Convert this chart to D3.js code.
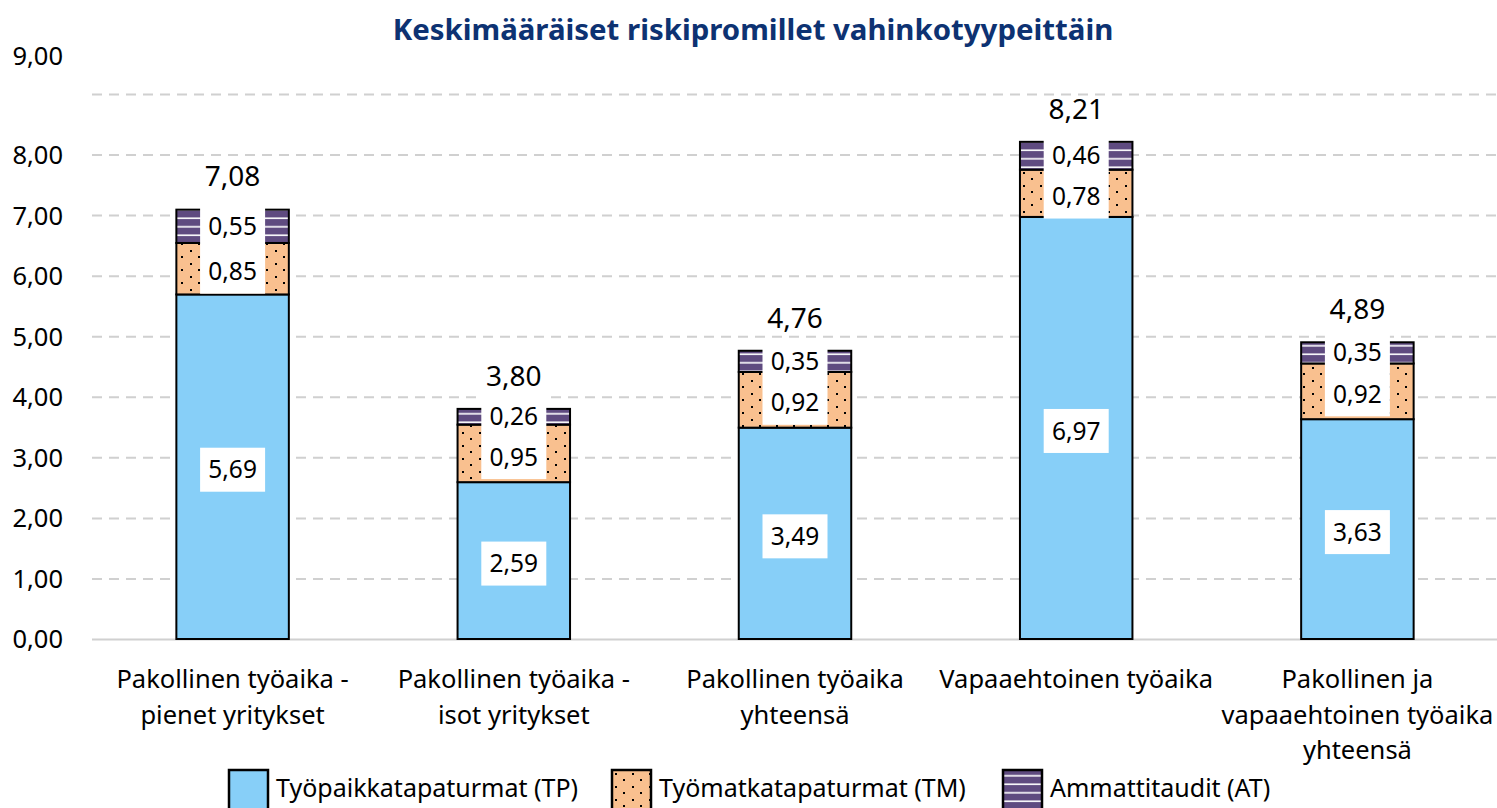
<!DOCTYPE html>
<html>
<head>
<meta charset="utf-8">
<script src="https://cdn.jsdelivr.net/npm/d3@7"></script>
<style>
  body { margin: 0; background: #fff; }
  svg { font-family: "Noto Sans", "Open Sans", sans-serif; }
</style>
</head>
<body>
<div id="chart"></div>
<script>
const categories = [
  ["Pakollinen työaika -", "pienet yritykset"],
  ["Pakollinen työaika -", "isot yritykset"],
  ["Pakollinen työaika", "yhteensä"],
  ["Vapaaehtoinen työaika"],
  ["Pakollinen ja", "vapaaehtoinen työaika", "yhteensä"]
]
const tp = [5.69, 2.59, 3.49, 6.97, 3.63]
const tm = [0.85, 0.95, 0.92, 0.78, 0.92]
const at = [0.55, 0.26, 0.35, 0.46, 0.35]
const totals = [7.08, 3.80, 4.76, 8.21, 4.89]
const seriesNames = ["Työpaikkatapaturmat (TP)", "Työmatkatapaturmat (TM)", "Ammattitaudit (AT)"]
const yTicks = [0, 1, 2, 3, 4, 5, 6, 7, 8, 9]

const fmt = v => d3.format(".2f")(v).replace(".", ",")

const width = 1497, height = 808
const svg = d3.select('#chart').append('svg')
  .attr('width', width).attr('height', height)
  .attr('viewBox', [0, 0, width, height])

// patterns
const defs = svg.append('defs')
const dots = defs.append('pattern').attr('id', 'dots')
  .attr('patternUnits', 'userSpaceOnUse').attr('width', 17).attr('height', 13)
dots.append('rect').attr('width', 17).attr('height', 13).attr('fill', '#f9c08f')
dots.append('rect').attr('x', 3).attr('y', 3).attr('width', 2).attr('height', 2).attr('fill', '#000')
dots.append('rect').attr('x', 11).attr('y', 9).attr('width', 2).attr('height', 2).attr('fill', '#000')

const lines = defs.append('pattern').attr('id', 'lines')
  .attr('patternUnits', 'userSpaceOnUse').attr('width', 8).attr('height', 8.5)
lines.append('rect').attr('width', 8).attr('height', 8.5).attr('fill', '#5f4b80')
lines.append('rect').attr('y', 5).attr('width', 8).attr('height', 1.6).attr('fill', '#fff')

const fills = ['#87cff8', 'url(#dots)', 'url(#lines)']

const x = d3.scaleBand().domain(d3.range(categories.length)).range([92, 1498]).paddingInner(0.6).paddingOuter(0.3)
const y = d3.scaleLinear().domain([0, 9]).range([639, 94])

// grid
const grid = svg.append('g').attr('transform', 'translate(92,0)')
  .call(d3.axisLeft(y).tickValues(yTicks).tickSize(-(1498 - 92)).tickFormat(fmt))
grid.select('.domain').remove()
grid.selectAll('.tick line')
  .attr('stroke', '#d0d0d0').attr('stroke-width', 2)
  .attr('stroke-dasharray', d => d === 0 ? null : '10,7')
grid.selectAll('.tick text')
  .attr('x', -29).attr('fill', '#000').attr('font-size', 25.5)
  .attr('dy', d => d === 9 ? '-30px' : '0.35em')
  .attr('font-family', '"Noto Sans", sans-serif')

// stacks
const rows = categories.map((c, i) => ({ i, tp: tp[i], tm: tm[i], at: at[i] }))
const stack = d3.stack().keys(['tp', 'tm', 'at'])(rows)

const g = svg.append('g')
g.selectAll('g.series').data(stack).join('g')
  .attr('fill', (d, k) => fills[k])
  .selectAll('rect').data(d => d).join('rect')
  .attr('x', d => x(d.data.i))
  .attr('width', x.bandwidth())
  .attr('y', d => y(d[1]))
  .attr('height', d => y(d[0]) - y(d[1]))
  .attr('stroke', '#000').attr('stroke-width', 2)

// segment labels
const boxW = 65, boxH = 44
const labels = []
const boxes = []
rows.forEach((r, i) => {
  const cTP = (y(0) + y(r.tp)) / 2
  let cTM = (y(r.tp) + y(r.tp + r.tm)) / 2
  let cAT = (y(r.tp + r.tm) + y(r.tp + r.tm + r.at)) / 2
  if (cTM - cAT < 38) {
    const mid = (cTM + cAT) / 2
    cTM = mid + 19; cAT = mid - 19
  }
  labels.push({ i, v: r.tp, cy: cTP + 3 }, { i, v: r.tm, cy: cTM + 3 }, { i, v: r.at, cy: cAT })
  boxes.push({ i, y0: cTP + 3 - boxH / 2, y1: cTP + 3 + boxH / 2 })
  boxes.push({ i, y0: cAT - boxH / 2, y1: cTM + 3 + boxH / 2 })
})
const lg = svg.append('g')
lg.selectAll('rect').data(boxes).join('rect')
  .attr('x', d => x(d.i) + x.bandwidth() / 2 - boxW / 2)
  .attr('y', d => d.y0)
  .attr('width', boxW).attr('height', d => d.y1 - d.y0)
  .attr('fill', '#fff')
lg.selectAll('text').data(labels).join('text')
  .attr('x', d => x(d.i) + x.bandwidth() / 2)
  .attr('y', d => d.cy)
  .attr('dy', '0.35em')
  .attr('text-anchor', 'middle')
  .attr('font-size', 24.5)
  .text(d => fmt(d.v))

// totals
svg.append('g').selectAll('text').data(totals).join('text')
  .attr('x', (d, i) => x(i) + x.bandwidth() / 2)
  .attr('y', (d, i) => y(tp[i] + tm[i] + at[i]) - 33)
  .attr('dy', '0.35em')
  .attr('text-anchor', 'middle')
  .attr('font-size', 28)
  .text(d => fmt(d))

// x labels
const xl = svg.append('g')
categories.forEach((lines, i) => {
  const t = xl.append('text')
    .attr('x', x(i) + x.bandwidth() / 2)
    .attr('y', 688)
    .attr('text-anchor', 'middle')
    .attr('font-size', 25.5)
  lines.forEach((l, k) => t.append('tspan')
    .attr('x', x(i) + x.bandwidth() / 2)
    .attr('dy', k === 0 ? 0 : 35.5)
    .text(l))
})

// title
svg.append('text')
  .attr('x', 753).attr('y', 40)
  .attr('text-anchor', 'middle')
  .attr('font-size', 29.4).attr('font-weight', 'bold')
  .attr('fill', '#0d3272')
  .text('Keskimääräiset riskipromillet vahinkotyypeittäin')

// legend
const legendX = [229, 612, 1003]
const leg = svg.append('g').selectAll('g').data(seriesNames).join('g')
  .attr('transform', (d, k) => `translate(${legendX[k]},770)`)
leg.append('rect')
  .attr('width', 39).attr('height', 40)
  .attr('fill', (d, k) => fills[k])
  .attr('stroke', '#000').attr('stroke-width', 2.5)
leg.append('text')
  .attr('x', 47).attr('y', 18).attr('dy', '0.35em')
  .attr('font-size', 25)
  .text(d => d)
</script>
</body>
</html>
